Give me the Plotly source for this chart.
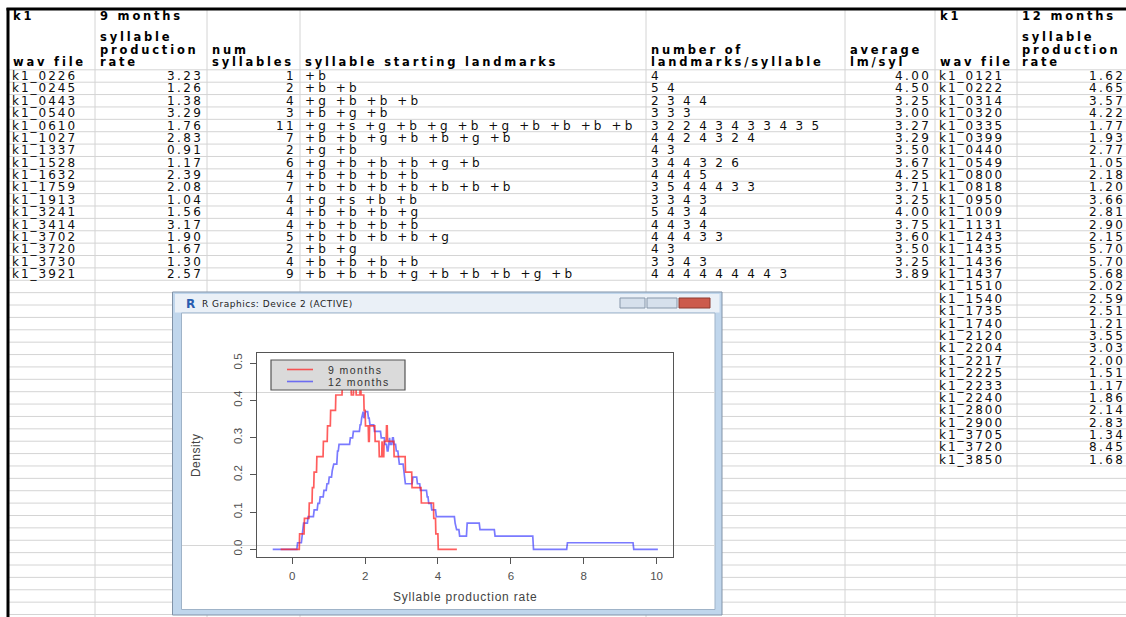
import numpy as np
import plotly.graph_objects as go

W, H = 1126, 617

# ---------------- data (read from the spreadsheet) ----------------
files_9 = ["k1_0226", "k1_0245", "k1_0443", "k1_0540", "k1_0610", "k1_1027", "k1_1337",
           "k1_1528", "k1_1632", "k1_1759", "k1_1913", "k1_3241", "k1_3414", "k1_3702",
           "k1_3720", "k1_3730", "k1_3921"]
rate_9 = [3.23, 1.26, 1.38, 3.29, 1.76, 2.83, 0.91, 1.17, 2.39, 2.08, 1.04, 1.56, 3.17,
          1.90, 1.67, 1.30, 2.57]
num_syllables = [1, 2, 4, 3, 11, 7, 2, 6, 4, 7, 4, 4, 4, 5, 2, 4, 9]
landmarks = ["+b", "+b +b", "+g +b +b +b", "+b +g +b",
             "+g +s +g +b +g +b +g +b +b +b +b", "+b +b +g +b +b +g +b", "+g +b",
             "+g +b +b +b +g +b", "+b +b +b +b", "+b +b +b +b +b +b +b", "+g +s +b +b",
             "+b +b +b +g", "+b +b +b +b", "+b +b +b +b +g", "+b +g", "+b +b +b +b",
             "+b +b +b +g +b +b +b +g +b"]
landmarks_per_syl = ["4", "5 4", "2 3 4 4", "3 3 3", "3 2 2 4 3 4 3 3 4 3 5",
                     "4 4 2 4 3 2 4", "4 3", "3 4 4 3 2 6", "4 4 4 5", "3 5 4 4 4 3 3",
                     "3 3 4 3", "5 4 3 4", "4 4 3 4", "4 4 4 3 3", "4 3", "3 3 4 3",
                     "4 4 4 4 4 4 4 4 3"]
avg_lm_syl = [4.00, 4.50, 3.25, 3.00, 3.27, 3.29, 3.50, 3.67, 4.25, 3.71, 3.25, 4.00,
              3.75, 3.60, 3.50, 3.25, 3.89]

files_12 = ["k1_0121", "k1_0222", "k1_0314", "k1_0320", "k1_0335", "k1_0399", "k1_0440",
            "k1_0549", "k1_0800", "k1_0818", "k1_0950", "k1_1009", "k1_1131", "k1_1243",
            "k1_1435", "k1_1436", "k1_1437", "k1_1510", "k1_1540", "k1_1735", "k1_1740",
            "k1_2120", "k1_2204", "k1_2217", "k1_2225", "k1_2233", "k1_2240", "k1_2800",
            "k1_2900", "k1_3705", "k1_3720", "k1_3850"]
rate_12 = [1.62, 4.65, 3.57, 4.22, 1.77, 1.93, 2.77, 1.05, 2.18, 1.20, 3.66, 2.81, 2.90,
           2.15, 5.70, 5.70, 5.68, 2.02, 2.59, 2.51, 1.21, 3.55, 3.03, 2.00, 1.51, 1.17,
           1.86, 2.14, 2.83, 1.34, 8.45, 1.68]
# values behind the plotted 12-month curve (its plateau near 5.7 shows only two rates there)
rate_12_plotted = [1.62, 4.65, 3.57, 4.22, 1.77, 1.93, 2.77, 1.05, 2.18, 1.20, 3.66, 2.81,
                   2.90, 2.15, 5.70, 5.70, 2.02, 2.59, 2.51, 1.21, 3.55, 3.03, 2.00, 1.51,
                   1.17, 1.86, 2.14, 2.83, 1.34, 8.45, 1.68]

x_ticks = [0, 2, 4, 6, 8, 10]
y_ticks = [0.0, 0.1, 0.2, 0.3, 0.4, 0.5]
legend_names = ["9 months", "12 months"]


# ---------------- density (R: density(x, kernel="rectangular")) ----------------
def bw_nrd0(x):
    x = np.asarray(x, float)
    hi = np.std(x, ddof=1)
    q75, q25 = np.percentile(x, [75, 25])
    lo = min(hi, (q75 - q25) / 1.34)
    return 0.9 * lo * len(x) ** -0.2


def rect_density(x, n=512, cut=3):
    x = np.asarray(x, float)
    bw = bw_nrd0(x)
    a = bw * np.sqrt(3.0)
    grid = np.linspace(x.min() - cut * bw, x.max() + cut * bw, n)
    dens = (np.abs(grid[:, None] - x[None, :]) < a).sum(axis=1) * 0.5 / a / len(x)
    return grid, dens


gx9, gy9 = rect_density(rate_9)
gx12, gy12 = rect_density(rate_12_plotted)
xlo, xhi = gx12.min(), gx12.max()
pad = 0.04 * (xhi - xlo)


# ---------------- helpers (pixel -> paper) ----------------
def X(px):
    return px / W


def Y(py):
    return 1 - py / H


def ls(text, sp):
    return f'<span style="letter-spacing:{sp}px">{text}</span>'


shapes = []
annotations = []

GRID = "#d4d4d4"
col_left = [8, 95, 207, 300, 646, 845, 935, 1017]
for cx in col_left[1:]:
    shapes.append(dict(type="line", xref="paper", yref="paper", x0=X(cx), x1=X(cx),
                       y0=Y(9), y1=Y(H), line=dict(color=GRID, width=1), layer="below"))
row0, pitch = 76.0, 12.38
yb = row0 - pitch / 2
while yb < H:
    shapes.append(dict(type="line", xref="paper", yref="paper", x0=X(8), x1=X(W),
                       y0=Y(yb), y1=Y(yb), line=dict(color=GRID, width=1), layer="below"))
    yb += pitch
shapes.append(dict(type="line", xref="paper", yref="paper", x0=X(6.5), x1=X(W), y0=Y(9),
                   y1=Y(9), line=dict(color="black", width=3), layer="below"))
shapes.append(dict(type="line", xref="paper", yref="paper", x0=X(8), x1=X(8), y0=Y(8),
                   y1=Y(H), line=dict(color="black", width=3), layer="below"))

# R graphics window frame
shapes.append(dict(type="rect", xref="paper", yref="paper", x0=X(172.5), x1=X(722),
                   y0=Y(615), y1=Y(292), fillcolor="#c0d6ec",
                   line=dict(color="#8193a8", width=1), layer="below"))
shapes.append(dict(type="rect", xref="paper", yref="paper", x0=X(175), x1=X(719.5),
                   y0=Y(312.5), y1=Y(294), fillcolor="#eaf0f7", line=dict(width=0),
                   layer="below"))
shapes.append(dict(type="rect", xref="paper", yref="paper", x0=X(181.5), x1=X(715),
                   y0=Y(609.5), y1=Y(313), fillcolor="white",
                   line=dict(color="#9fb3c8", width=1), layer="below"))
for ly in (392.5, 545.5):
    shapes.append(dict(type="line", xref="paper", yref="paper", x0=X(182), x1=X(715),
                       y0=Y(ly), y1=Y(ly), line=dict(color="#d6d6d6", width=1),
                       layer="below"))
for bx0, bx1, fc, lc in ((620, 645, "#d6e0ec", "#8797aa"), (647, 677, "#d6e0ec", "#8797aa"),
                         (679, 710, "#cc5a4c", "#8d3b31")):
    shapes.append(dict(type="rect", xref="paper", yref="paper", x0=X(bx0), x1=X(bx1),
                       y0=Y(308), y1=Y(298), fillcolor=fc, line=dict(color=lc, width=1),
                       layer="below"))

# legend box (R legend with grey background)
shapes.append(dict(type="rect", xref="paper", yref="paper", x0=X(271), x1=X(405),
                   y0=Y(390), y1=Y(360), fillcolor="#dadada",
                   line=dict(color="#555555", width=1.2), layer="above"))
RED = "rgba(255,30,30,0.72)"
BLUE = "rgba(40,40,255,0.62)"
for ly, col, name in ((369.5, RED, legend_names[0]), (381.5, BLUE, legend_names[1])):
    shapes.append(dict(type="line", xref="paper", yref="paper", x0=X(287), x1=X(313),
                       y0=Y(ly), y1=Y(ly), line=dict(color=col, width=1.6), layer="above"))
    annotations.append(dict(xref="paper", yref="paper", x=X(326), y=Y(ly), xanchor="left",
                            yanchor="middle", showarrow=False, text=ls(name, 1.4),
                            font=dict(family="Liberation Sans", size=10.5, color="#333")))

# window title
annotations.append(dict(xref="paper", yref="paper", x=X(184), y=Y(303.5), xanchor="left",
                        yanchor="middle", showarrow=False, text="R",
                        font=dict(family="DejaVu Sans", size=12, color="#2a5db0",
                                  weight="bold")))
annotations.append(dict(xref="paper", yref="paper", x=X(200), y=Y(303.5), xanchor="left",
                        yanchor="middle", showarrow=False,
                        text=ls("R Graphics: Device 2 (ACTIVE)", 0.5),
                        font=dict(family="DejaVu Sans", size=9, color="#222")))

# ---------------- spreadsheet text ----------------
HF = dict(family="DejaVu Sans", size=11.5, color="#000", weight="bold")
DF = dict(family="DejaVu Sans", size=12, color="#0d0d0d")
HS = 2.8
L1, L2, L3, L4 = 16, 37, 49.5, 62


def head(px, py, text):
    annotations.append(dict(xref="paper", yref="paper", x=X(px), y=Y(py), xanchor="left",
                            yanchor="middle", showarrow=False, text=ls(text, HS), font=HF))


def cell(px, py, text, sp, anchor="left"):
    annotations.append(dict(xref="paper", yref="paper", x=X(px), y=Y(py), xanchor=anchor,
                            yanchor="middle", showarrow=False, text=ls(text, sp), font=DF))


head(11, L1, "k1"); head(11, L4, "wav file")
head(98, L1, "9 months"); head(98, L2, "syllable"); head(98, L3, "production"); head(98, L4, "rate")
head(210, L3, "num"); head(210, L4, "syllables")
head(303, L4, "syllable starting landmarks")
head(649, L3, "number of"); head(649, L4, "landmarks/syllable")
head(848, L3, "average"); head(848, L4, "lm/syl")
head(938, L1, "k1"); head(938, L4, "wav file")
head(1020, L1, "12 months"); head(1020, L2, "syllable"); head(1020, L3, "production"); head(1020, L4, "rate")

for i in range(len(files_9)):
    yc = row0 + i * pitch
    cell(10, yc, files_9[i], 2.0)
    cell(205, yc, f"{rate_9[i]:.2f}", 2.4, "right")
    cell(298, yc, str(num_syllables[i]), 2.4, "right")
    cell(303, yc, landmarks[i], 3.1)
    cell(649, yc, landmarks_per_syl[i], 2.3)
    cell(933, yc, f"{avg_lm_syl[i]:.2f}", 2.4, "right")
for i in range(len(files_12)):
    yc = row0 + i * pitch
    cell(937, yc, files_12[i], 2.0)
    cell(1127, yc, f"{rate_12[i]:.2f}", 2.4, "right")

# ---------------- density plot ----------------
fig = go.Figure()
fig.add_trace(go.Scatter(x=gx12, y=gy12, mode="lines", name=legend_names[1],
                         line=dict(color=BLUE, width=1.7), showlegend=False))
fig.add_trace(go.Scatter(x=gx9, y=gy9, mode="lines", name=legend_names[0],
                         line=dict(color=RED, width=1.7), showlegend=False))

AX = dict(showline=True, linecolor="#555555", linewidth=1.2, mirror=True, ticks="outside",
          ticklen=6, tickcolor="#555555", showgrid=False, zeroline=False,
          tickfont=dict(family="Liberation Sans", size=11.5, color="#505050"))
fig.update_layout(
    width=W, height=H, autosize=False,
    margin=dict(l=0, r=0, t=0, b=0),
    paper_bgcolor="white", plot_bgcolor="rgba(0,0,0,0)",
    showlegend=False,
    shapes=shapes, annotations=annotations,
    xaxis=dict(domain=[X(257.3), X(673.3)], range=[xlo - pad, xhi + pad],
               tickvals=x_ticks, ticktext=[str(t) for t in x_ticks],
               ticklabelstandoff=2,
               title=dict(text=ls("Syllable production rate", 0.8), standoff=11,
                          font=dict(family="Liberation Sans", size=12, color="#444")),
               **AX),
    yaxis=dict(domain=[Y(557.3), Y(353.3)], range=[-0.0215, 0.5265],
               tickvals=y_ticks, ticktext=[f"{t:.1f}" for t in y_ticks], tickangle=-90,
               ticklabelstandoff=4,
               title=dict(text=ls("Density", 0.5), standoff=28,
                          font=dict(family="Liberation Sans", size=12, color="#444")),
               **AX),
)

fig.write_html("out.html")
